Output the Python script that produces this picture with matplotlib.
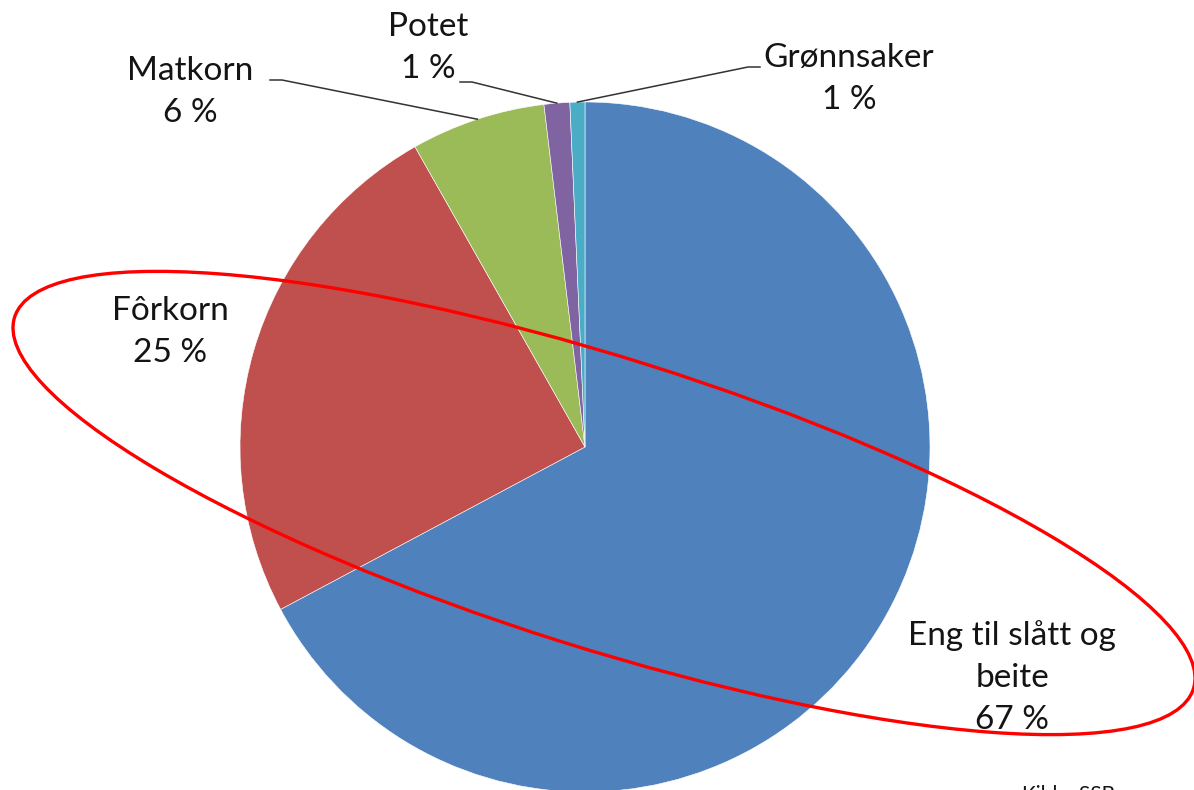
import numpy as np
import matplotlib.pyplot as plt
from matplotlib.patches import Ellipse

# Arealbruk, andel av jordbruksareal
labels = ['Eng til slått og\nbeite', 'Fôrkorn', 'Matkorn', 'Potet', 'Grønnsaker']
shares = [67.2, 24.6, 6.3, 1.2, 0.7]
colors = ['#4F81BD', '#C0504D', '#9BBB59', '#8064A2', '#4BACC6']

W, H = 1194, 790
FONT = ['Lato', 'DejaVu Sans']
TXT = '#141414'

# label centre (pixel, from top) and where the leader line starts (None = no leader)
label_pos = [(1012, 678), (170, 332), (190, 92), (428, 48), (849, 79)]
leader_from = [None, None, (270, 80), (460, 82), (760, 67)]


def py(y):
    return H - y


fig = plt.figure(figsize=(W / 100, H / 100), dpi=100)
ax = fig.add_axes([0, 0, 1, 1])

cx, cy, r = 585, 447, 345
wedges, _ = ax.pie(shares, colors=colors, startangle=90, counterclock=False,
                   radius=r, center=(cx, py(cy)),
                   wedgeprops=dict(linewidth=0.4, edgecolor='white'))

# pie() sets its own limits, so fix the pixel frame afterwards
ax.set_xlim(0, W)
ax.set_ylim(0, H)
ax.set_aspect('equal')
ax.axis('off')

for w, lab, share, pos, lf in zip(wedges, labels, shares, label_pos, leader_from):
    ax.text(pos[0], py(pos[1]), f"{lab}\n{round(share):d} %", ha='center', va='center',
            fontsize=24, family=FONT, color=TXT, linespacing=1.5)
    if lf is not None:
        mid = np.deg2rad((w.theta1 + w.theta2) / 2)
        ex = cx + r * np.cos(mid)
        ey = py(cy) + r * np.sin(mid)
        hx = lf[0] + 12 if lf[0] < cx else lf[0] - 12
        ax.plot([lf[0], hx, ex], [py(lf[1]), py(lf[1]), ey], color='#333333', lw=1.1,
                solid_joinstyle='round')

# red marking round the feed areas
ax.add_patch(Ellipse((604, py(503)), 2 * 618, 2 * 145, angle=-17.5, fill=False,
                     edgecolor='#FF0000', lw=2.4, zorder=5))

ax.text(1022, py(785), 'Kilde: SSB', ha='left', va='top', fontsize=15, family=FONT,
        color=TXT)

fig.savefig('out.png', dpi=100)
